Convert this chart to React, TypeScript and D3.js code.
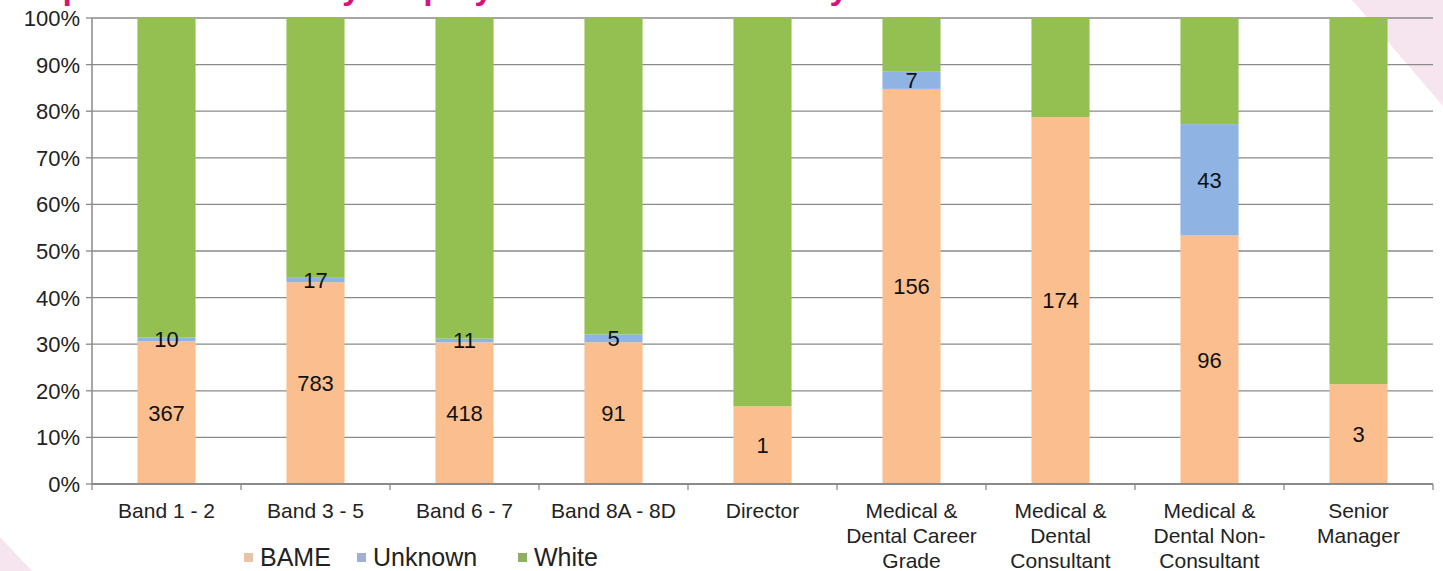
import React from "react";
import * as d3 from "d3";

const categories: string[][] = [
  ["Band 1 - 2"],
  ["Band 3 - 5"],
  ["Band 6 - 7"],
  ["Band 8A - 8D"],
  ["Director"],
  ["Medical &", "Dental Career", "Grade"],
  ["Medical &", "Dental", "Consultant"],
  ["Medical &", "Dental Non-", "Consultant"],
  ["Senior", "Manager"],
];
const bame = [367, 783, 418, 91, 1, 156, 174, 96, 3];
const unknown = [10, 17, 11, 5, 0, 7, 0, 43, 0];
const white = [822, 1008, 946, 203, 5, 21, 47, 41, 11];
const seriesNames = ["BAME", "Unknown", "White"];
const seriesColors = ["#fbbf8f", "#8fb4e3", "#93c050"];
const legendMarkerColors = ["#e8c3a8", "#9fb0d8", "#8fb064"];
const yTicks = [0, 0.1, 0.2, 0.3, 0.4, 0.5, 0.6, 0.7, 0.8, 0.9, 1];
const title = "Comparison of Staff by Employee Band and Ethnicity";

const W = 1443;
const H = 571;
const M = { left: 92, right: 1433, top: 18, bottom: 484 };
const FONT = "'Liberation Sans', Arial, sans-serif";

export default function App() {
  const keys = categories.map((c) => c.join(" "));
  const rows = keys.map((k, i) => ({
    key: k,
    BAME: bame[i],
    Unknown: unknown[i],
    White: white[i],
  }));
  const stack = d3
    .stack<any>()
    .keys(seriesNames)
    .offset(d3.stackOffsetExpand);
  const series = stack(rows);

  const x = d3
    .scaleBand<string>()
    .domain(keys)
    .range([M.left, M.right])
    .paddingInner(0.61)
    .paddingOuter(0.305);
  const y = d3.scaleLinear().domain([0, 1]).range([M.bottom, M.top]);
  const step = x.step();
  const fmt = d3.format(".0%");

  const legendX = [244, 357, 518];

  return (
    <svg
      width={W}
      height={H}
      style={{ position: "absolute", left: 0, top: 0, background: "#fff" }}
      fontFamily={FONT}
    >
      <rect x={0} y={0} width={W} height={H} fill="#ffffff" />
      {/* decorative corners */}
      <polygon points={`1352,0 ${W},0 ${W},106`} fill="#f6e5ef" />
      <polygon points={`0,537 32,${H} 0,${H}`} fill="#f6e5ef" />
      {/* clipped title */}
      <text
        x={-13}
        y={-1}
        fontSize={34}
        fontWeight="bold"
        fill="#d4147c"
      >
        {title}
      </text>

      {/* gridlines */}
      {yTicks.map((t) => (
        <line
          key={t}
          x1={M.left}
          x2={M.right}
          y1={y(t)}
          y2={y(t)}
          stroke="#8a8a8a"
          strokeWidth={1.3}
        />
      ))}

      {/* bars */}
      {series.map((s, si) => (
        <g key={s.key} fill={seriesColors[si]}>
          {s.map((d, i) => (
            <rect
              key={i}
              x={x(keys[i])}
              y={y(d[1])}
              width={x.bandwidth()}
              height={Math.max(0, y(d[0]) - y(d[1]))}
            />
          ))}
        </g>
      ))}

      {/* data labels */}
      {series.map((s, si) =>
        s.map((d, i) => {
          const raw = (d.data as any)[s.key] as number;
          if (s.key === "White" || raw === 0) return null;
          return (
            <text
              key={`${s.key}-${i}`}
              x={(x(keys[i]) as number) + x.bandwidth() / 2}
              y={(y(d[0]) + y(d[1])) / 2}
              dy="0.36em"
              textAnchor="middle"
              fontSize={22}
              fill="#111"
            >
              {raw}
            </text>
          );
        })
      )}

      {/* axes */}
      <line x1={M.left} x2={M.left} y1={M.top} y2={M.bottom} stroke="#8a8a8a" strokeWidth={1.5} />
      <line x1={M.left} x2={M.right} y1={M.bottom} y2={M.bottom} stroke="#8a8a8a" strokeWidth={1.8} />
      {yTicks.map((t) => (
        <g key={`yt${t}`}>
          <line x1={M.left - 6} x2={M.left} y1={y(t)} y2={y(t)} stroke="#8a8a8a" strokeWidth={1.3} />
          <text
            x={80}
            y={y(t)}
            dy="0.36em"
            textAnchor="end"
            fontSize={22}
            fill="#222"
          >
            {fmt(t)}
          </text>
        </g>
      ))}
      {keys.map((k, i) => (
        <line
          key={`xt${i}`}
          x1={(x(k) as number) - (step - x.bandwidth()) / 2}
          x2={(x(k) as number) - (step - x.bandwidth()) / 2}
          y1={M.bottom}
          y2={M.bottom + 6}
          stroke="#8a8a8a"
          strokeWidth={1.3}
        />
      ))}
      <line x1={M.right} x2={M.right} y1={M.bottom} y2={M.bottom + 6} stroke="#8a8a8a" strokeWidth={1.3} />
      {categories.map((lines, i) => (
        <text
          key={`xl${i}`}
          x={(x(keys[i]) as number) + x.bandwidth() / 2}
          y={518}
          textAnchor="middle"
          fontSize={21}
          fill="#222"
        >
          {lines.map((ln, j) => (
            <tspan key={j} x={(x(keys[i]) as number) + x.bandwidth() / 2} dy={j === 0 ? 0 : 25}>
              {ln}
            </tspan>
          ))}
        </text>
      ))}

      {/* legend */}
      {seriesNames.map((n, i) => (
        <g key={n}>
          <rect x={legendX[i]} y={553} width={9} height={9} fill={legendMarkerColors[i]} />
          <text x={legendX[i] + 16} y={566} fontSize={25} fill="#222">
            {n}
          </text>
        </g>
      ))}
    </svg>
  );
}
